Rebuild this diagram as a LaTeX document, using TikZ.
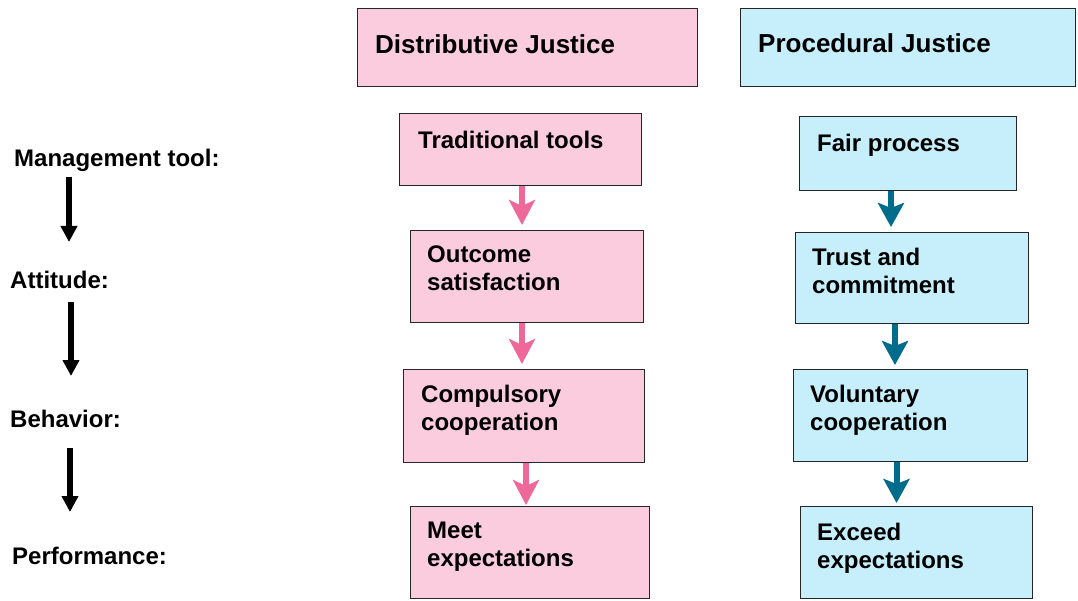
\documentclass[tikz,border=0pt]{standalone}
\usepackage{fontspec}
\setmainfont{Liberation Sans}
\usetikzlibrary{arrows.meta}
\definecolor{pinkfill}{RGB}{251,204,221}
\definecolor{cyanfill}{RGB}{198,238,251}
\definecolor{pinkarr}{RGB}{238,104,154}
\definecolor{bluearr}{RGB}{0,108,140}
\begin{document}
\begin{tikzpicture}[x=1pt,y=-1pt,
  basebox/.style={draw=black!85, line width=1.3pt, anchor=north west, inner sep=0pt},
  pbox/.style={basebox, fill=pinkfill},
  cbox/.style={basebox, fill=cyanfill},
  txt/.style={anchor=north west, inner sep=0pt, align=left, font=\fontsize{24}{28}\selectfont\bfseries},
  ttl/.style={anchor=north west, inner sep=0pt, font=\fontsize{26}{30}\selectfont\bfseries},
  parr/.style={draw=pinkarr, line width=6pt, -{Stealth[length=25pt,width=26pt,inset=6pt]}},
  barr/.style={draw=bluearr, line width=6pt, -{Stealth[length=24pt,width=26pt,inset=5pt]}},
  karr/.style={draw=black, line width=5.5pt, -{Triangle[length=16pt,width=16pt]}}
]
\useasboundingbox (0,0) rectangle (1078,601);
\fill[white] (0,0) rectangle (1078,601);

% title boxes
\node[pbox, minimum width=340pt, minimum height=78pt] (dj) at (357,8) {};
\node[cbox, minimum width=335pt, minimum height=78pt] (pj) at (740,8) {};
\node[ttl] (djt) at (375,34.5) {Distributive Justice};
\node[ttl] (pjt) at (758,33.5) {Procedural Justice};

% distributive column
\node[pbox, minimum width=242pt, minimum height=72pt] (d1) at (399,113) {};
\node[pbox, minimum width=233pt, minimum height=92pt] (d2) at (410,230) {};
\node[pbox, minimum width=241pt, minimum height=93pt] (d3) at (403,369) {};
\node[pbox, minimum width=239pt, minimum height=92pt] (d4) at (410,506) {};
\node[txt] (d1t) at (418,130.5) {Traditional tools};
\node[txt] (d2t) at (427,245.5) {Outcome\\satisfaction};
\node[txt] (d3t) at (421,384.5) {Compulsory\\cooperation};
\node[txt] (d4t) at (427,521.5) {Meet\\expectations};

% procedural column
\node[cbox, minimum width=217pt, minimum height=74pt] (p1) at (799,116) {};
\node[cbox, minimum width=233pt, minimum height=91pt] (p2) at (795,232) {};
\node[cbox, minimum width=234pt, minimum height=92pt] (p3) at (793,369) {};
\node[cbox, minimum width=232pt, minimum height=92pt] (p4) at (800,506) {};
\node[txt] (p1t) at (817,133.5) {Fair process};
\node[txt] (p2t) at (812,247.5) {Trust and\\commitment};
\node[txt] (p3t) at (810,384.5) {Voluntary\\cooperation};
\node[txt] (p4t) at (817,522.5) {Exceed\\expectations};

% left labels
\node[txt] (mt) at (14,148.5) {Management tool:};
\node[txt] (at) at (10,271) {Attitude:};
\node[txt] (bh) at (10,409.5) {Behavior:};
\node[txt] (pf) at (12,546.5) {Performance:};

% x positions of connectors
\coordinate (xp1) at (522,0);
\coordinate (xp2) at (522,0);
\coordinate (xp3) at (526,0);
\coordinate (xb1) at (891,0);
\coordinate (xb2) at (895,0);
\coordinate (xb3) at (896.5,0);

\draw[parr] (d1.south -| xp1) -- ([yshift=5pt]d2.north -| xp1);
\draw[parr] (d2.south -| xp2) -- ([yshift=5pt]d3.north -| xp2);
\draw[parr] (d3.south -| xp3) -- ([yshift=1pt]d4.north -| xp3);
\draw[barr] (p1.south -| xb1) -- ([yshift=5pt]p2.north -| xb1);
\draw[barr] (p2.south -| xb2) -- ([yshift=4pt]p3.north -| xb2);
\draw[barr] (p3.south -| xb3) -- ([yshift=3pt]p4.north -| xb3);

% black arrows
\coordinate (k1s) at (69,177);
\coordinate (k1e) at (69,242);
\coordinate (k2s) at (71,302);
\coordinate (k2e) at (71,376);
\coordinate (k3s) at (70,448);
\coordinate (k3e) at (70,512);
\draw[karr] (k1s) -- (k1e);
\draw[karr] (k2s) -- (k2e);
\draw[karr] (k3s) -- (k3e);
\end{tikzpicture}
\end{document}
